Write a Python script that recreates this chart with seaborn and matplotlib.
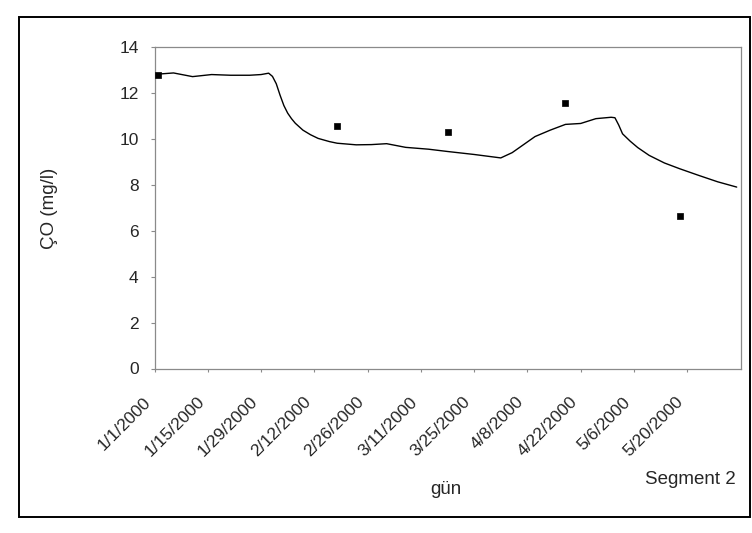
import pandas as pd
import matplotlib
matplotlib.use("Agg")
import matplotlib.pyplot as plt
from matplotlib.patches import Rectangle
from matplotlib.transforms import ScaledTranslation, blended_transform_factory
import seaborn as sns

# Simulated dissolved oxygen, days counted from 1 Jan 2000
model_day = [1, 5, 10, 15, 20, 25, 28, 30, 31, 32, 33, 34, 35, 36, 37, 39, 41,
             43, 46, 48, 53, 57, 61, 66, 72, 77, 84, 91, 94, 97, 100, 104, 108,
             112, 116, 120, 121, 122, 123, 125, 127, 130, 134, 138, 143, 148, 153]
model_do = [12.82, 12.87, 12.71, 12.80, 12.77, 12.77, 12.80, 12.86, 12.72, 12.40,
            11.90, 11.45, 11.12, 10.88, 10.68, 10.38, 10.18, 10.02, 9.88, 9.81,
            9.74, 9.75, 9.79, 9.63, 9.55, 9.45, 9.32, 9.17, 9.40, 9.75, 10.10,
            10.38, 10.63, 10.67, 10.88, 10.94, 10.92, 10.60, 10.22, 9.90, 9.62,
            9.28, 8.95, 8.70, 8.41, 8.13, 7.90]

# Measured dissolved oxygen
obs_day = [1, 48, 77, 108, 138]
obs_do = [12.80, 10.54, 10.32, 11.56, 6.63]

tick_labels = ["1/1/2000", "1/15/2000", "1/29/2000", "2/12/2000", "2/26/2000",
               "3/11/2000", "3/25/2000", "4/8/2000", "4/22/2000", "5/6/2000",
               "5/20/2000"]
y_ticks = [0, 2, 4, 6, 8, 10, 12, 14]
x_start, x_end = "2000-01-01", "2000-06-03"

start = pd.Timestamp(x_start)
model = pd.DataFrame({"date": start + pd.to_timedelta(model_day, unit="D"),
                      "do": model_do})
obs = pd.DataFrame({"date": start + pd.to_timedelta(obs_day, unit="D"),
                    "do": obs_do})
tick_dates = pd.to_datetime(tick_labels, format="%m/%d/%Y")

sns.set_style("white")
plt.rcParams["font.family"] = ["Liberation Sans", "DejaVu Sans"]

W, H = 752, 533
fig = plt.figure(figsize=(W / 100, H / 100), dpi=100)
fig.patch.set_facecolor("white")

# outer chart-area frame
fig.add_artist(Rectangle((19 / W, 1 - 517 / H), (750 - 19) / W, (517 - 17) / H,
                         transform=fig.transFigure, fill=False,
                         edgecolor="black", linewidth=1.4))

ax = fig.add_axes([154.5 / W, 1 - 368.5 / H, (740.5 - 154.5) / W, (368.5 - 47) / H])
ax.set_facecolor("white")

sns.lineplot(data=model, x="date", y="do", ax=ax, color="black",
             linewidth=1.0, legend=False)
sns.scatterplot(data=obs, x="date", y="do", ax=ax, marker="s", s=22,
                color="black", edgecolor="black", linewidth=0.5, legend=False,
                zorder=3)

ax.set_xlim(pd.Timestamp(x_start), pd.Timestamp(x_end))
ax.set_ylim(0, 14)
ax.set_yticks(y_ticks)
ax.set_yticklabels([str(v) for v in y_ticks], fontsize=12.5)
ax.set_xticks(tick_dates)
ax.set_xticklabels([])
ax.set_xlabel("")
ax.set_ylabel("")

# slanted date labels, each ending just below its tick
label_tr = blended_transform_factory(ax.transData, ax.transAxes) + \
    ScaledTranslation(-0.06, -0.31, fig.dpi_scale_trans)
for d, txt in zip(tick_dates, tick_labels):
    ax.text(d, 0, txt, transform=label_tr, rotation=45, ha="right",
            va="center", rotation_mode="anchor", fontsize=12.5, clip_on=False)

for s in ax.spines.values():
    s.set_visible(True)
    s.set_color("#8a8a8a")
    s.set_linewidth(0.9)

ax.tick_params(axis="y", direction="out", length=3, width=0.8, color="#8a8a8a",
               pad=8.5, left=True)
ax.tick_params(axis="x", direction="out", length=2.5, width=0.8, color="#8a8a8a",
               bottom=True)

fig.text(49.5 / W, 1 - 208 / H, "ÇO (mg/l)", rotation=90, ha="center",
         va="center", fontsize=13.5)
fig.text(446 / W, 1 - 490 / H, "gün", ha="center", va="center", fontsize=13.5)
fig.text(690 / W, 1 - 479.5 / H, "Segment 2", ha="center", va="center",
         fontsize=13.5)

fig.savefig("out.png", dpi=100, facecolor="white")
